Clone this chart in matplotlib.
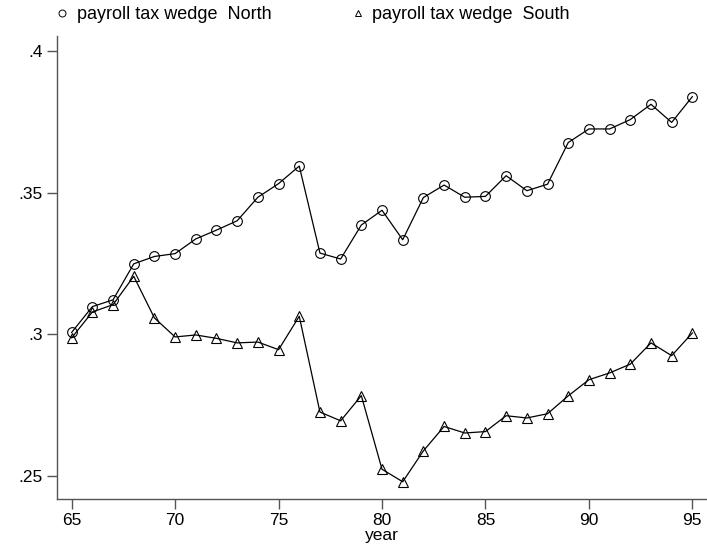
import matplotlib
matplotlib.use("Agg")
import matplotlib.pyplot as plt
from matplotlib.lines import Line2D

# payroll tax wedge, North vs South, 1965-1995
years = list(range(65, 96))
north = [0.3007, 0.3098, 0.3122, 0.3249, 0.3275, 0.3285, 0.3337, 0.3368, 0.3401, 0.3484,
         0.3532, 0.3594, 0.3287, 0.3266, 0.3386, 0.3438, 0.3334, 0.3483, 0.3527, 0.3484,
         0.3487, 0.3560, 0.3507, 0.3530, 0.3677, 0.3725, 0.3725, 0.3758, 0.3812, 0.3748,
         0.3839]
south = [0.2988, 0.3079, 0.3105, 0.3205, 0.3058, 0.2991, 0.2998, 0.2986, 0.2970, 0.2973,
         0.2946, 0.3064, 0.2726, 0.2695, 0.2784, 0.2524, 0.2480, 0.2589, 0.2675, 0.2652,
         0.2657, 0.2713, 0.2705, 0.2720, 0.2783, 0.2840, 0.2864, 0.2895, 0.2970, 0.2925,
         0.3005]

xticks = [65, 70, 75, 80, 85, 90, 95]
yticks = [0.25, 0.3, 0.35, 0.4]
ytick_labels = [".25", ".3", ".35", ".4"]

plt.rcParams["font.family"] = ["Liberation Sans", "DejaVu Sans"]

fig = plt.figure(figsize=(7.07, 5.53), dpi=100)
ax = fig.add_axes([0.0806, 0.0976, 0.918, 0.8373])

ax.plot(years, north, color="black", lw=0.9, marker="o", ms=7, mfc="none",
        mec="black", mew=0.8)
ax.plot(years, south, color="black", lw=0.9, marker="^", ms=7, mfc="none",
        mec="black", mew=0.8)

ax.set_xlim(64.29, 95.66)
ax.set_ylim(0.2419, 0.4053)
ax.set_xticks(xticks)
ax.set_yticks(yticks)
ax.set_yticklabels(ytick_labels)

for s in ["top", "right"]:
    ax.spines[s].set_visible(False)
for s in ["left", "bottom"]:
    ax.spines[s].set_color("#555555")
    ax.spines[s].set_linewidth(1.0)
ax.tick_params(direction="out", length=7, width=1, color="#555555",
               labelsize=12.5, pad=3)

ax.set_xlabel("year", fontsize=12.5, labelpad=0)

# legend shows markers only, no line
handles = [Line2D([], [], ls="none", marker="o", ms=5, mfc="none", mec="black", mew=0.7),
           Line2D([], [], ls="none", marker="^", ms=5, mfc="none", mec="black", mew=0.7)]
labels = ["payroll tax wedge  North", "payroll tax wedge  South"]
ax.legend(handles, labels, loc="lower left", bbox_to_anchor=(-0.02, 1.0), ncol=2,
          frameon=False, handlelength=0.6, handletextpad=0.5, columnspacing=4.5,
          fontsize=13, borderaxespad=0.3)

fig.savefig("out.png", dpi=100)
